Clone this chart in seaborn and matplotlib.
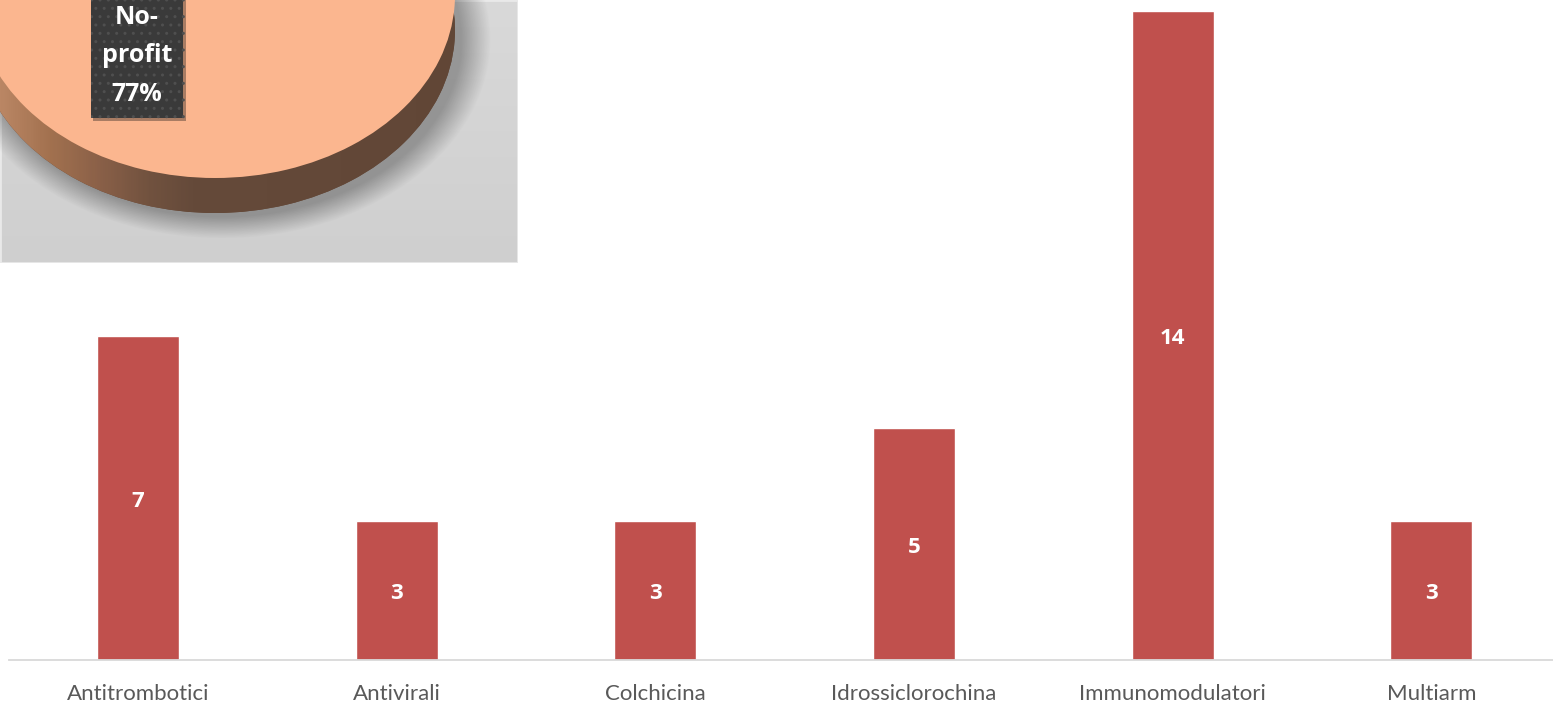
import numpy as np
import pandas as pd
import matplotlib
matplotlib.use("Agg")
import matplotlib.pyplot as plt
from matplotlib.colors import LinearSegmentedColormap
from matplotlib.patches import Rectangle
import matplotlib.patheffects as pe
import seaborn as sns

# --- data -------------------------------------------------------------
categories = ["Antitrombotici", "Antivirali", "Colchicina",
              "Idrossiclorochina", "Immunomodulatori", "Multiarm"]
counts = [7, 3, 3, 5, 14, 3]

pie_labels = ["No-profit", "Profit"]
pie_shares = [77, 23]

# --- style ------------------------------------------------------------
sns.set_theme(style="white")
plt.rcParams["font.family"] = ["Lato", "DejaVu Sans"]
BOLD_FONT = ["Open Sans", "DejaVu Sans"]

W, H = 1553, 704
fig = plt.figure(figsize=(W / 100, H / 100), dpi=100)
fig.patch.set_facecolor("white")


def px_rect(x0, y0, x1, y1):
    """Pixel box (origin top-left) -> figure-fraction rect."""
    return [x0 / W, 1 - y1 / H, (x1 - x0) / W, (y1 - y0) / H]


# --- bar chart --------------------------------------------------------
BAR_RED = "#C0504D"
ax = fig.add_axes(px_rect(8.6, 11, W, 660))
df = pd.DataFrame({"categoria": categories, "n": counts})
sns.barplot(data=df, x="categoria", y="n", color=BAR_RED, saturation=1,
            width=0.317, ax=ax)
ax.set_xlim(-0.5, -0.5 + (W - 8.6) / 258.7)
ax.set_ylim(0, 14)
for side in ["top", "right", "left"]:
    ax.spines[side].set_visible(False)
ax.spines["bottom"].set_color("#D9D9D9")
ax.spines["bottom"].set_linewidth(1.3)
ax.set_yticks([])
ax.set_xlabel("")
ax.set_ylabel("")
ax.tick_params(axis="x", length=0, pad=17, labelsize=16, labelcolor="#595959")
ax.set_facecolor("none")

NUM_SIZE = 16
for bar, v in zip(ax.patches, counts):
    ax.annotate(str(v), (bar.get_x() + bar.get_width() / 2, bar.get_height() / 2),
                xytext=(0, -0.40 * NUM_SIZE), textcoords="offset points",
                ha="center", va="baseline", color="white", fontweight="bold",
                fontsize=NUM_SIZE, family=BOLD_FONT)

# --- inset panel with the 3D-looking pie -------------------------------
box = fig.add_axes(px_rect(0, 0, 518, 263), zorder=3)
bg = np.linspace(0, 1, 200)[:, None] * np.ones((1, 50))
box.imshow(bg, cmap=LinearSegmentedColormap.from_list("bg", ["#D9D9D9", "#CFCFCF"]),
           aspect="auto", extent=(0, 1, 0, 1), origin="upper")
box.add_patch(Rectangle((0, 0), 1, 1, transform=box.transAxes, fill=False,
                        ec="#E9E9E9", lw=2))
box.set_xlim(0, 1)
box.set_ylim(0, 1)
box.set_axis_off()

cx, cy, a, b = 215, -5, 240, 183   # ellipse centre / radii in pixels
depth = 35                          # extrusion height in pixels
LX, LY = 1.15, 1.45
pax = fig.add_axes(px_rect(cx - LX * a, cy - LY * b, cx + LX * a, cy + LY * b),
                   zorder=4)
pax.set_axis_off()

start = 90 + pie_shares[1] * 3.6 / 2

# soft drop shadow under the disc
gx, gy = np.meshgrid(np.linspace(-LX, LX, 500), np.linspace(-LY, LY, 600))
sx, sy = 0.03, -(depth + 10) / b
r = np.sqrt(((gx - sx) / 1.03) ** 2 + (gy - sy) ** 2)
shadow = np.zeros(gx.shape + (4,))
shadow[..., 3] = 0.30 * np.clip((1.09 - r) / 0.12, 0, 1)
pax.imshow(shadow, extent=(-LX, LX, -LY, LY), origin="lower", aspect="auto",
           zorder=1, interpolation="bilinear")

# side of the disc
side_wedges, _ = pax.pie(pie_shares, center=(0, -depth / b),
                         colors=["#654A3A", "#5E5E5E"], startangle=start,
                         wedgeprops=dict(linewidth=0))
for w in side_wedges:
    w.set_zorder(2)
side_cmap = LinearSegmentedColormap.from_list(
    "side", [(0.0, "#C99573"), (0.11, "#BA8664"), (0.20, "#A2714F"),
             (0.29, "#8A6048"), (0.38, "#71523F"), (0.46, "#654A3A"),
             (1.0, "#614636")])
grad = np.linspace(0, 1, 300)[None, :]
img = pax.imshow(grad, cmap=side_cmap, aspect="auto",
                 extent=(-LX, LX, -LY, LY), zorder=2.5)
img.set_clip_path(side_wedges[0])

# top face
top_wedges, _ = pax.pie(pie_shares, colors=["#FBB68F", "#9A9A9A"],
                        startangle=start, wedgeprops=dict(linewidth=0))
for w in top_wedges:
    w.set_zorder(3)

pax.set_aspect("auto")
pax.set_xlim(-LX, LX)
pax.set_ylim(-LY, LY)

# data label of the visible slice
lbl = fig.text(137 / W, 1 - 56 / H,
               f"{pie_labels[0].replace('-', '-\n')}\n{pie_shares[0]}%",
               ha="center", va="center", color="white", fontweight="bold",
               fontsize=18, linespacing=1.72, zorder=6, family=BOLD_FONT,
               bbox=dict(boxstyle="square,pad=0.45", fc="#3A3A3A",
                         ec="#4F4F4F", lw=0, hatch=".."))
lbl.get_bbox_patch().set_path_effects(
    [pe.SimplePatchShadow(offset=(2, -2), alpha=0.35), pe.Normal()])

fig.savefig("out.png", dpi=100, facecolor="white")
